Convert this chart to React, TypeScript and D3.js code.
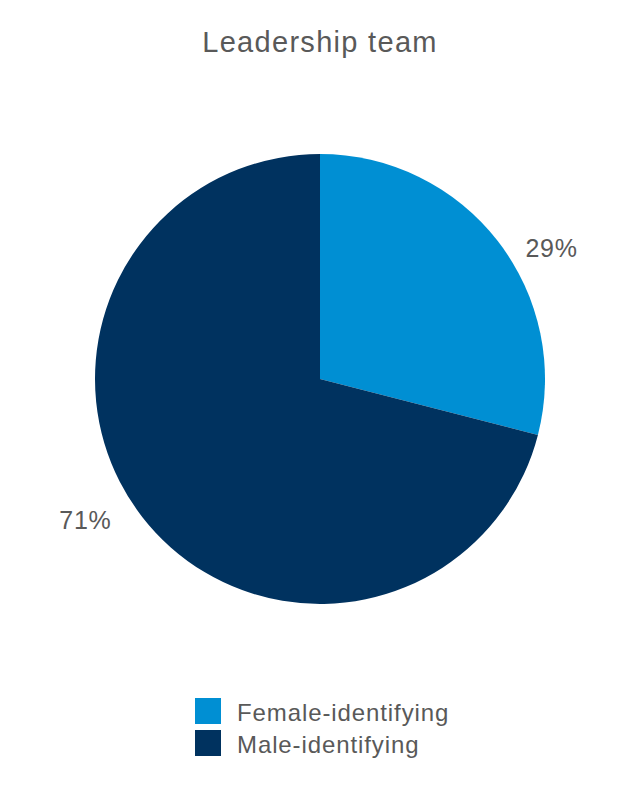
import React from 'react';
import * as d3 from 'd3';

const categories = ['Female-identifying', 'Male-identifying'];
const shares = [29, 71];
const colors = ['#008fd3', '#00325f'];
const title = 'Leadership team';

const width = 640;
const height = 800;
const cx = 320;
const cy = 379;
const radius = 225;
const labelRadius = 270;
const labelShift = (7.5 * Math.PI) / 180;
const font = '"Liberation Sans", Arial, sans-serif';
const textColor = '#595959';

export default function App() {
  const pie = d3.pie<number>().sort(null).value((d) => d);
  const arcs = pie(shares);
  const arc = d3.arc<d3.PieArcDatum<number>>().innerRadius(0).outerRadius(radius);

  return (
    <svg
      width={width}
      height={height}
      style={{ position: 'absolute', left: 0, top: 0, fontFamily: font }}
    >
      <rect width={width} height={height} fill="#ffffff" />
      <text
        x={cx}
        y={52}
        textAnchor="middle"
        fontSize={29}
        letterSpacing={1.3}
        fill={textColor}
      >
        {title}
      </text>

      <g transform={`translate(${cx},${cy})`}>
        {arcs.map((a, i) => (
          <path key={categories[i]} d={arc(a) || ''} fill={colors[i]} />
        ))}
        {arcs.map((a, i) => {
          const mid = (a.startAngle + a.endAngle) / 2 + labelShift;
          const x = labelRadius * Math.sin(mid);
          const y = -labelRadius * Math.cos(mid);
          return (
            <text
              key={`l-${i}`}
              x={x}
              y={y}
              dx={-1.5}
              dy={5}
              textAnchor="middle"
              dominantBaseline="central"
              fontSize={25}
              letterSpacing={0.8}
              fill={textColor}
            >
              {`${shares[i]}%`}
            </text>
          );
        })}
      </g>

      <g transform="translate(195,698)">
        {categories.map((c, i) => (
          <g key={c} transform={`translate(0,${i * 32})`}>
            <rect width={26} height={26} fill={colors[i]} />
            <text x={42} y={23} fontSize={24} letterSpacing={0.9} fill={textColor}>
              {c}
            </text>
          </g>
        ))}
      </g>
    </svg>
  );
}
